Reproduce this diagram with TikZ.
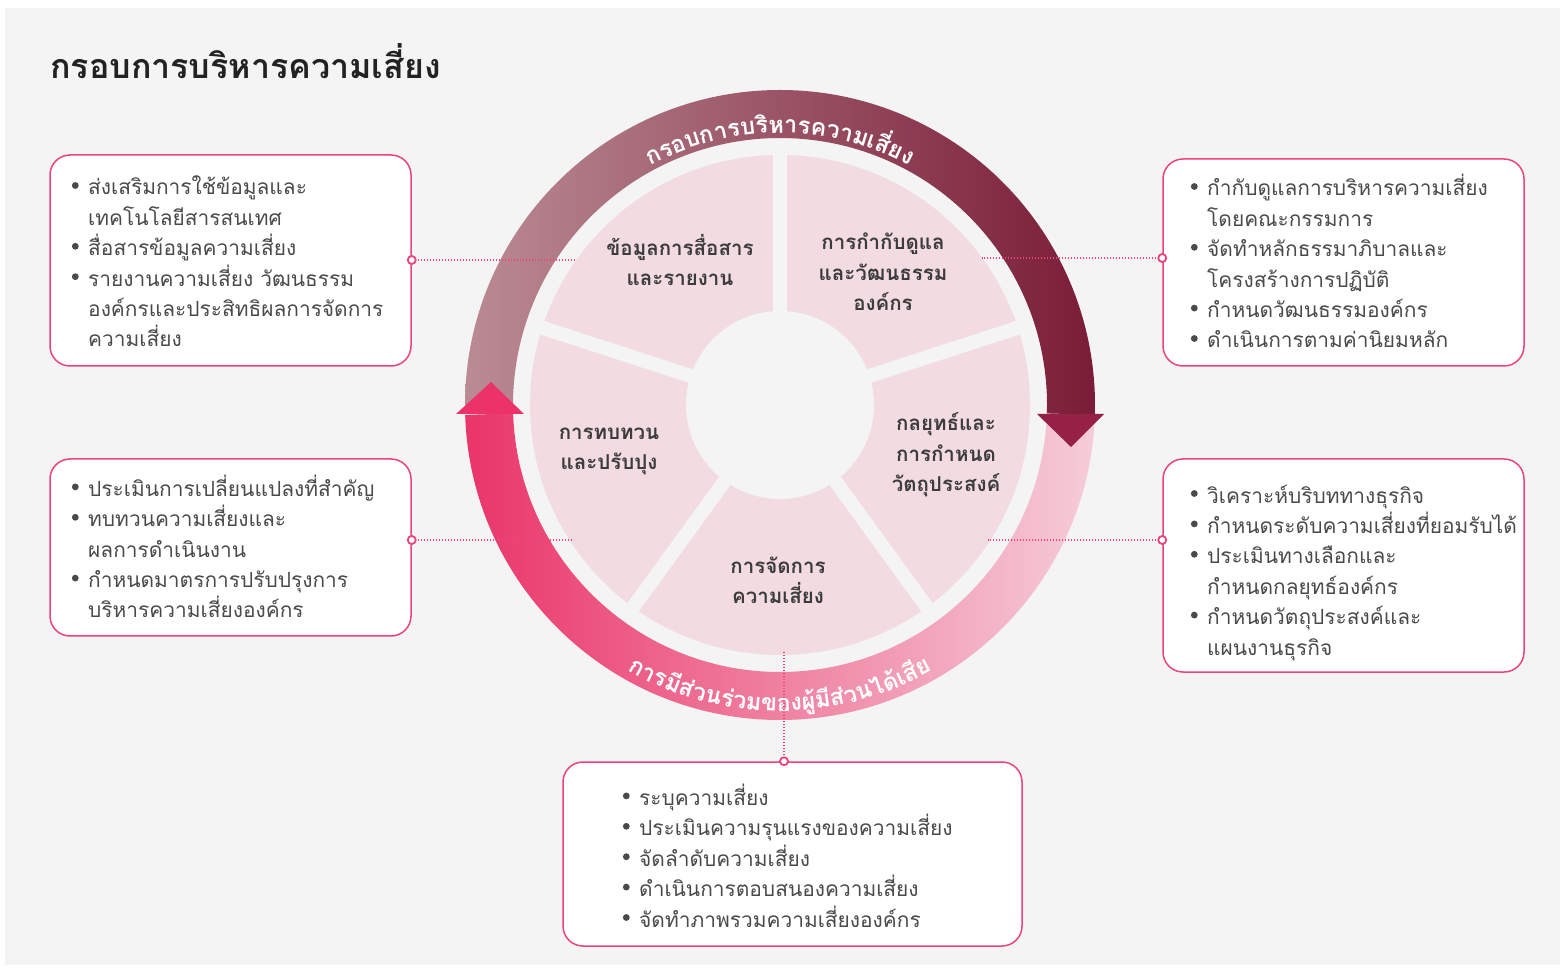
\documentclass[tikz,border=0pt]{standalone}
\usepackage{fontspec}
\usetikzlibrary{decorations.text,calc}
\newfontfamily\loma[Script=Thai]{Loma}
\definecolor{bgc}{HTML}{F4F4F4}
\definecolor{piec}{HTML}{F2DCE2}
\definecolor{boxc}{HTML}{E9457B}
\definecolor{txtc}{HTML}{4A4A4A}
\definecolor{lblc}{HTML}{3C3C3C}
\definecolor{titc}{HTML}{222222}
\definecolor{mauveL}{HTML}{BA8B95}
\definecolor{mauveR}{HTML}{7A1C37}
\definecolor{pinkL}{HTML}{EA356A}
\definecolor{pinkR}{HTML}{F5CDD8}
\definecolor{arrD}{HTML}{952245}
\definecolor{arrP}{HTML}{EC3369}
\newcommand\bitem{\llap{\tikz[baseline=0pt]\fill[txtc] (0,9.5pt) circle[radius=3.4pt];\hspace{9.5pt}}}
\tikzset{
  box/.style={draw=boxc, line width=1.5pt, fill=white, rounded corners=20pt, inner sep=0pt},
  btext/.style={align=left, inner sep=0pt, text=txtc, font=\loma\fontsize{20.9}{30.4}\selectfont, anchor=base west},
  seglbl/.style={align=center, inner sep=0pt, text=lblc, font=\loma\bfseries\fontsize{20.5}{30.6}\selectfont, anchor=base},
  conn/.style={boxc, line width=1.6pt, dash pattern=on 1.5pt off 1.5pt},
  dotend/.style={circle, draw=boxc, line width=1.8pt, fill=white, minimum size=8pt, inner sep=0pt},
}
\begin{document}
\begin{tikzpicture}[x=1pt,y=1pt]
\useasboundingbox (0,0) rectangle (1565,967);
\fill[white] (0,0) rectangle (1565,967);
\fill[bgc] (5,2) rectangle (1560,959);
\coordinate (C) at (780,562);
% title
\node[anchor=base west, inner sep=0pt, text=titc, font=\loma\bfseries\fontsize{34}{38}\selectfont] (title) at (50,888) {กรอบการบริหารความเสี่ยง};
% pie
\fill[piec] (C) circle[radius=250];
\foreach \a in {90,18,-54,-126,162} \draw[bgc, line width=14pt] (C) -- ++(\a:256);
\fill[bgc] (C) circle[radius=94];
% ring bottom (pink)
\shade[left color=pinkL, right color=pinkR] ($(C)+(181.8:315)$) arc[start angle=181.8, end angle=360, radius=315] -- ($(C)+(0:267)$) arc[start angle=360, end angle=181.8, radius=267] -- cycle;
% ring top (mauve)
\shade[left color=mauveL, right color=mauveR] ($(C)+(180:315)$) arc[start angle=180, end angle=-1.8, radius=315] -- ($(C)+(-1.8:267)$) arc[start angle=-1.8, end angle=180, radius=267] -- cycle;
% arrowheads
\fill[arrD] (1037,553) -- (1104,553) -- (1071,520) -- cycle;
\fill[arrP] (456,553) -- (524,553) -- (491,585) -- cycle;
% ring texts
\path[decorate, decoration={text along path, text align=center, text color=white,
  text={|\loma\bfseries\fontsize{23.5}{23}\selectfont|กรอบการบ{ริ}หารความเ{สี่}ยง}}]
  (508,562) arc[start angle=180, end angle=0, radius=272];
\path[decorate, decoration={text along path, text align=center, text color=white,
  text={|\loma\bfseries\fontsize{23.5}{23}\selectfont|การ{มี}{ส่}วน{ร่}วมของ{ผู้}{มี}{ส่}วนไ{ด้}เ{สี}ย}}]
  (474,562) arc[start angle=180, end angle=360, radius=306];
% segment labels (anchored at the baseline of the last line)
\node[seglbl] (s1) at (680,681) {ข้อมูลการสื่อสาร\\และรายงาน};
\node[seglbl] (s2) at (883,656) {การกำกับดูแล\\และวัฒนธรรม\\องค์กร};
\node[seglbl] (s3) at (946,475) {กลยุทธ์และ\\การกำหนด\\วัตถุประสงค์};
\node[seglbl] (s4) at (778,363) {การจัดการ\\ความเสี่ยง};
\node[seglbl] (s5) at (609,497) {การทบทวน\\และปรับปุง};
% boxes
\node[box, minimum width=361pt, minimum height=211pt] (b1) at (230.5,706.5) {};
\node[box, minimum width=361pt, minimum height=207pt] (b2) at (1343.5,704.5) {};
\node[box, minimum width=361pt, minimum height=177pt] (b3) at (230.5,419.5) {};
\node[box, minimum width=361pt, minimum height=213pt] (b4) at (1343.5,401.5) {};
\node[box, minimum width=459pt, minimum height=184pt] (b5) at (792.5,113) {};
% box texts (anchored at the baseline of the last line)
\node[btext] (t1) at (88,620) {\bitem ส่งเสริมการใช้ข้อมูลและ\\เทคโนโลยีสารสนเทศ\\\bitem สื่อสารข้อมูลความเสี่ยง\\\bitem รายงานความเสี่ยง วัฒนธรรม\\องค์กรและประสิทธิผลการจัดการ\\ความเสี่ยง};
\node[btext] (t2) at (1207,619) {\bitem กำกับดูแลการบริหารความเสี่ยง\\โดยคณะกรรมการ\\\bitem จัดทำหลักธรรมาภิบาลและ\\โครงสร้างการปฏิบัติ\\\bitem กำหนดวัฒนธรรมองค์กร\\\bitem ดำเนินการตามค่านิยมหลัก};
\node[btext] (t3) at (88,349) {\bitem ประเมินการเปลี่ยนแปลงที่สำคัญ\\\bitem ทบทวนความเสี่ยงและ\\ผลการดำเนินงาน\\\bitem กำหนดมาตรการปรับปรุงการ\\บริหารความเสี่ยงองค์กร};
\node[btext] (t4) at (1207,312) {\bitem วิเคราะห์บริบททางธุรกิจ\\\bitem กำหนดระดับความเสี่ยงที่ยอมรับได้\\\bitem ประเมินทางเลือกและ\\กำหนดกลยุทธ์องค์กร\\\bitem กำหนดวัตถุประสงค์และ\\แผนงานธุรกิจ};
\node[btext] (t5) at (639,40) {\bitem ระบุความเสี่ยง\\\bitem ประเมินความรุนแรงของความเสี่ยง\\\bitem จัดลำดับความเสี่ยง\\\bitem ดำเนินการตอบสนองความเสี่ยง\\\bitem จัดทำภาพรวมความเสี่ยงองค์กร};
% connector ends on the pie
\coordinate (p1) at (576,707);
\coordinate (p2) at (982,709);
\coordinate (p3) at (572,427);
\coordinate (p4) at (988,427);
\coordinate (p5) at (784,315);
\draw[conn] (b1.east |- p1) -- (p1);
\draw[conn] (b2.west |- p2) -- (p2);
\draw[conn] (b3.east |- p3) -- (p3);
\draw[conn] (b4.west |- p4) -- (p4);
\draw[conn] (b5.north -| p5) -- (p5);
\node[dotend] (e1) at (b1.east |- p1) {};
\node[dotend] (e2) at (b2.west |- p2) {};
\node[dotend] (e3) at (b3.east |- p3) {};
\node[dotend] (e4) at (b4.west |- p4) {};
\node[dotend] (e5) at (b5.north -| p5) {};
\end{tikzpicture}
\end{document}
